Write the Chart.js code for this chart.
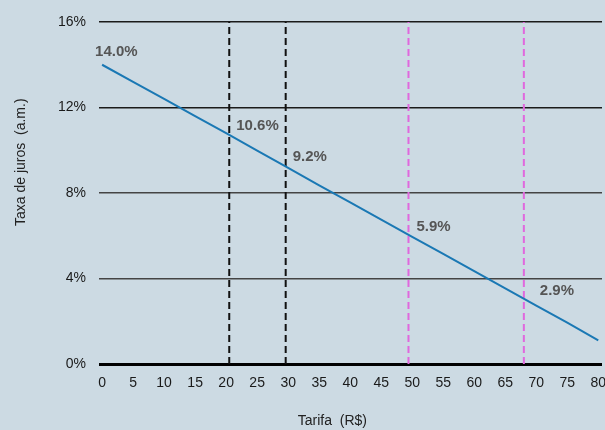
<!DOCTYPE html>
<html>
<head>
<meta charset="utf-8">
<script src="https://cdn.jsdelivr.net/npm/chart.js@4"></script>
<style>
html,body{margin:0;padding:0;overflow:hidden;background:#ccdae3;width:605px;height:430px;}
#wrap{width:620px;height:430px;}
</style>
</head>
<body>
<div id="wrap"><canvas id="c" width="620" height="430"></canvas></div>
<script>
// Data
const tarifa = [0, 5, 10, 15, 20, 25, 30, 35, 40, 45, 50, 55, 60, 65, 70, 75, 80];
const taxa   = [14.0, 13.2, 12.4, 11.6, 10.8, 9.98, 9.17, 8.36, 7.56, 6.76, 5.95, 5.15, 4.34, 3.54, 2.73, 1.93, 1.1];

const markerX      = [20.5, 29.6, 49.4, 68.0];
const markerColors = ['#111111', '#111111', '#e068de', '#e068de'];

const labelX    = [0, 20.5, 29.6, 49.4, 68.0];
const labelY    = [14.0, 10.6, 9.2, 5.9, 2.9];
const labelText = ['14.0%', '10.6%', '9.2%', '5.9%', '2.9%'];
const labelDx   = [-7, 7, 7, 8, 16];
const labelDy   = [-13, -12, -10, -11, -11];

const xTicks = [0, 5, 10, 15, 20, 25, 30, 35, 40, 45, 50, 55, 60, 65, 70, 75, 80];
const yTicks = [0, 4, 8, 12, 16];
const xTitle = 'Tarifa  (R$)';
const yTitle = 'Taxa de juros  (a.m.)';

const datasets = [{
  data: tarifa.map((x, i) => ({x: x, y: taxa[i]})),
  borderColor: '#1a78b4',
  borderWidth: 2,
  pointRadius: 0,
  tension: 0,
  fill: false
}];
markerX.forEach((m, i) => {
  datasets.push({
    data: [{x: m, y: 0}, {x: m, y: 16}],
    borderColor: markerColors[i],
    borderWidth: 2,
    borderDash: [7, 4],
    pointRadius: 0,
    fill: false
  });
});

const labelPlugin = {
  id: 'labels',
  afterDatasetsDraw(chart) {
    const ctx = chart.ctx, xs = chart.scales.x, ys = chart.scales.y;
    ctx.save();
    ctx.font = 'bold 15px "Liberation Sans", Arial, sans-serif';
    ctx.fillStyle = '#555555';
    ctx.textAlign = 'left';
    ctx.textBaseline = 'middle';
    labelText.forEach((t, i) => {
      ctx.fillText(t, xs.getPixelForValue(labelX[i]) + labelDx[i], ys.getPixelForValue(labelY[i]) + labelDy[i]);
    });
    ctx.restore();
  },
  afterDraw(chart) {
    const ctx = chart.ctx, a = chart.chartArea;
    ctx.save();
    ctx.font = '14px "Liberation Sans", Arial, sans-serif';
    ctx.fillStyle = '#222222';
    ctx.textAlign = 'center';
    ctx.textBaseline = 'middle';
    ctx.fillText(xTitle, a.left + (a.right - a.left) * 0.464, 421);
    ctx.translate(21, a.top + (a.bottom - a.top) * 0.41);
    ctx.rotate(-Math.PI / 2);
    ctx.fillText(yTitle, 0, 0);
    ctx.restore();
  }
};

new Chart(document.getElementById('c'), {
  type: 'line',
  data: { datasets: datasets },
  options: {
    responsive: false,
    animation: false,
    layout: { padding: { left: 0, right: 18, top: 22, bottom: 0 } },
    plugins: { legend: { display: false }, tooltip: { enabled: false } },
    scales: {
      x: {
        type: 'linear',
        min: -0.5, max: 80.6,
        afterBuildTicks(scale) { scale.ticks = xTicks.map(v => ({value: v})); },
        afterFit(scale) { scale.height = 66; },
        ticks: { autoSkip: false, maxRotation: 0, padding: 3, color: '#1a1a1a',
                 callback: v => String(v),
                 font: { family: '"Liberation Sans", Arial, sans-serif', size: 14 } },
        grid: { display: false },
        border: { display: false }
      },
      y: {
        min: 0, max: 16,
        afterBuildTicks(scale) { scale.ticks = yTicks.map(v => ({value: v})); },
        afterFit(scale) { scale.width = 99; },
        ticks: { padding: 13, color: '#1a1a1a', callback: v => v + '%',
                 font: { family: '"Liberation Sans", Arial, sans-serif', size: 14 } },
        grid: {
          drawTicks: false,
          color: c => c.tick && c.tick.value === 0 ? '#000000' : (c.tick && c.tick.value >= 12 ? '#1a1a1a' : '#444444'),
          lineWidth: c => c.tick && c.tick.value === 0 ? 3 : 1.5
        },
        border: { display: false }
      }
    }
  },
  plugins: [labelPlugin]
});
</script>
</body>
</html>
